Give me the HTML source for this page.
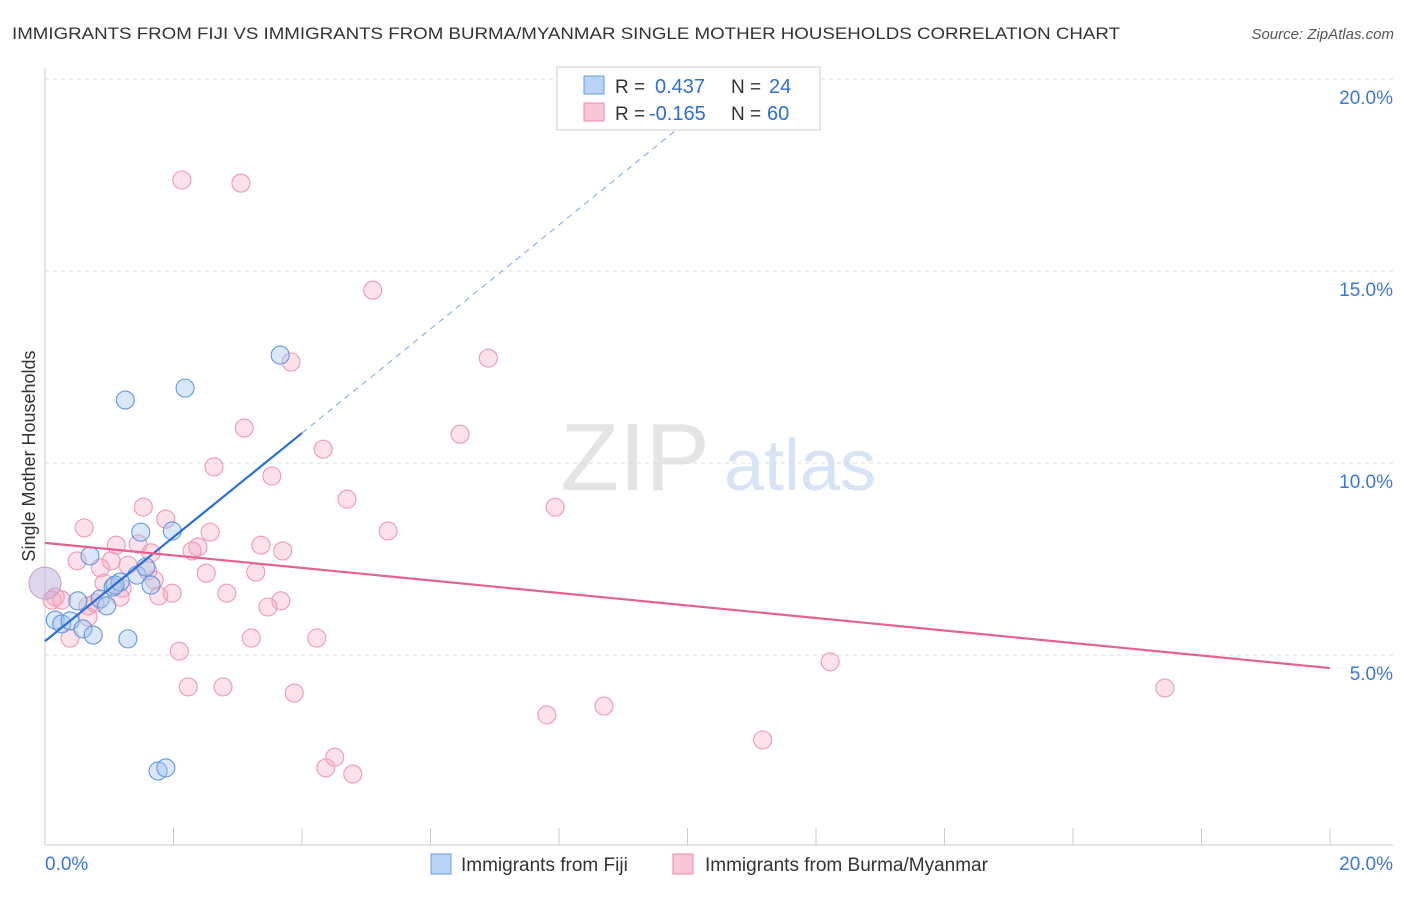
<!DOCTYPE html>
<html><head><meta charset="utf-8"><style>
body{margin:0;background:#fff;font-family:"Liberation Sans",sans-serif}
svg text{font-family:"Liberation Sans",sans-serif}
</style></head><body>
<svg id="c" width="1406" height="892" xmlns="http://www.w3.org/2000/svg">
<text x="12" y="39" font-size="17" fill="#333" textLength="1108" lengthAdjust="spacingAndGlyphs">IMMIGRANTS FROM FIJI VS IMMIGRANTS FROM BURMA/MYANMAR SINGLE MOTHER HOUSEHOLDS CORRELATION CHART</text>
<text x="1394" y="39" font-size="15" fill="#555" font-style="italic" text-anchor="end">Source: ZipAtlas.com</text>
<text x="35" y="456" font-size="18" fill="#333" transform="rotate(-90 35 456)" text-anchor="middle">Single Mother Households</text>
<g><text x="635" y="490" font-size="96" fill="#e4e4e4" font-family="Liberation Serif" text-anchor="middle">ZIP</text><text x="800" y="490" font-size="72" fill="#d6e4f5" text-anchor="middle">atlas</text></g>
<g id="grid"></g><g id="axes"></g><g id="pts"></g><g id="trend"></g>
<g>
<rect x="557" y="67" width="263" height="63" fill="#fff" stroke="#ccc"/>
<rect x="584" y="76" width="20" height="18" fill="#b9d3f5" stroke="#6a9bde"/>
<rect x="584" y="103" width="20" height="18" fill="#f9c6d6" stroke="#e68aa8"/>
<text x="615" y="93" font-size="19" fill="#333">R =</text><text x="655" y="93" font-size="20" fill="#2e6fd0">0.437</text>
<text x="731" y="93" font-size="19" fill="#333">N =</text><text x="769" y="93" font-size="20" fill="#2e6fd0">24</text>
<text x="615" y="120" font-size="19" fill="#333">R =</text><text x="649" y="120" font-size="20" fill="#2e6fd0">-0.165</text>
<text x="731" y="120" font-size="19" fill="#333">N =</text><text x="767" y="120" font-size="20" fill="#2e6fd0">60</text>
</g>
<g>
<rect x="431" y="854" width="20" height="20" fill="#b9d3f5" stroke="#6a9bde"/>
<text x="461" y="871" font-size="19" fill="#333">Immigrants from Fiji</text>
<rect x="673" y="854" width="20" height="20" fill="#f9c6d6" stroke="#e68aa8"/>
<text x="705" y="871" font-size="19" fill="#333">Immigrants from Burma/Myanmar</text>
</g>
</svg>
<script>
const fijiX=[0,0.16,0.26,0.39,0.59,0.75,0.51,0.70,0.86,0.96,1.06,1.17,1.29,1.43,1.57,1.65,1.49,1.98,1.25,2.18,3.66,1.76,1.88,1.09];
const fijiY=[6.87,5.91,5.81,5.89,5.68,5.52,6.41,7.58,6.46,6.28,6.77,6.90,5.42,7.08,7.29,6.82,8.20,8.23,11.64,11.95,12.81,1.98,2.06,6.82];
const burmaX=[2.13,3.05,5.10,6.90,3.83,3.10,6.46,4.33,2.63,3.53,4.70,7.94,1.53,1.88,0.61,2.57,5.34,1.11,1.45,2.38,2.29,3.36,3.70,1.65,0.50,1.03,1.29,0.86,1.60,1.70,2.51,3.28,0.92,1.20,1.17,1.98,1.77,2.83,3.67,3.47,0.16,0.11,0.26,0.67,0.39,0.67,0.78,4.23,3.21,2.09,2.23,2.77,3.88,12.22,17.43,8.70,7.81,11.17,4.51,4.37,4.79];
const burmaY=[17.37,17.29,14.50,12.73,12.63,10.91,10.75,10.36,9.90,9.66,9.06,8.85,8.85,8.54,8.31,8.20,8.23,7.86,7.89,7.81,7.71,7.86,7.71,7.66,7.45,7.45,7.34,7.27,7.19,6.95,7.13,7.16,6.87,6.74,6.51,6.61,6.54,6.61,6.41,6.25,6.51,6.43,6.43,6.28,5.44,5.99,6.35,5.44,5.44,5.10,4.17,4.17,4.01,4.82,4.14,3.67,3.44,2.79,2.34,2.06,1.90];
const fijiTrend=[5.36,1.355];   // intercept, slope
const burmaTrend=[7.92,-0.163];
const yTicks=[5,10,15,20];
const yTickLabels=["5.0%","10.0%","15.0%","20.0%"];
const xTicks=[0,2,4,6,8,10,12,14,16,18,20];
const NS="http://www.w3.org/2000/svg";
const X=v=>45+v*64.25, Y=v=>847-v*38.4;
function mk(p,t,a){const e=document.createElementNS(NS,t);for(const k in a)e.setAttribute(k,a[k]);document.getElementById(p).appendChild(e);return e;}
yTicks.forEach((t,i)=>{
 const g=mk('grid','line',{x1:45,x2:1393,y1:Y(t),y2:Y(t),stroke:'#ddd','stroke-dasharray':'4,4'});
 
 
 const l=mk('axes','text',{x:1393,y:Y(t)+25,'font-size':19,fill:'#3a78d4','text-anchor':'end'});
 l.textContent=yTickLabels[i];
 
 
});
const ax=mk('axes','line',{x1:45,x2:45,y1:68,y2:845,stroke:'#ccc'});


const bx=mk('axes','line',{x1:45,x2:1393,y1:845,y2:845,stroke:'#ccc'});


xTicks.forEach(t=>{const e=mk('axes','line',{x1:X(t),x2:X(t),y1:828,y2:845,stroke:'#ccc'});
 
 });
const x0=mk('axes','text',{x:45,y:870,'font-size':19,fill:'#3a78d4'});x0.textContent='0.0%';


const x1=mk('axes','text',{x:1393,y:870,'font-size':19,fill:'#3a78d4','text-anchor':'end'});x1.textContent='20.0%';


burmaX.forEach((v,i)=>{const c=mk('pts','circle',{cx:X(v),cy:Y(burmaY[i]),r:9,fill:'rgba(246,170,195,0.35)',stroke:'#eb9ab4','stroke-width':1.1});
 
 });
fijiX.forEach((v,i)=>{const c=mk('pts','circle',{cx:X(v),cy:Y(fijiY[i]),r:i==0?16:9,fill:i==0?'rgba(190,175,215,0.5)':'rgba(160,196,240,0.4)',stroke:i==0?'#c9a5c8':'#6497dc','stroke-width':1.1});
 
 });
const fl=mk('trend','line',{x1:X(0),y1:Y(fijiTrend[0]),x2:X(4),y2:Y(fijiTrend[0]+4*fijiTrend[1]),stroke:'#2a6fd6','stroke-width':2.2});


const fd=mk('trend','line',{x1:X(4),y1:Y(fijiTrend[0]+4*fijiTrend[1]),x2:X(10.3),y2:Y(fijiTrend[0]+10.3*fijiTrend[1]),stroke:'#8fb3e6','stroke-width':1.2,'stroke-dasharray':'6,5'});


const bl=mk('trend','line',{x1:X(0),y1:Y(burmaTrend[0]),x2:X(20),y2:Y(burmaTrend[0]+20*burmaTrend[1]),stroke:'#e5628e','stroke-width':2.2});


</script>
</body></html>
